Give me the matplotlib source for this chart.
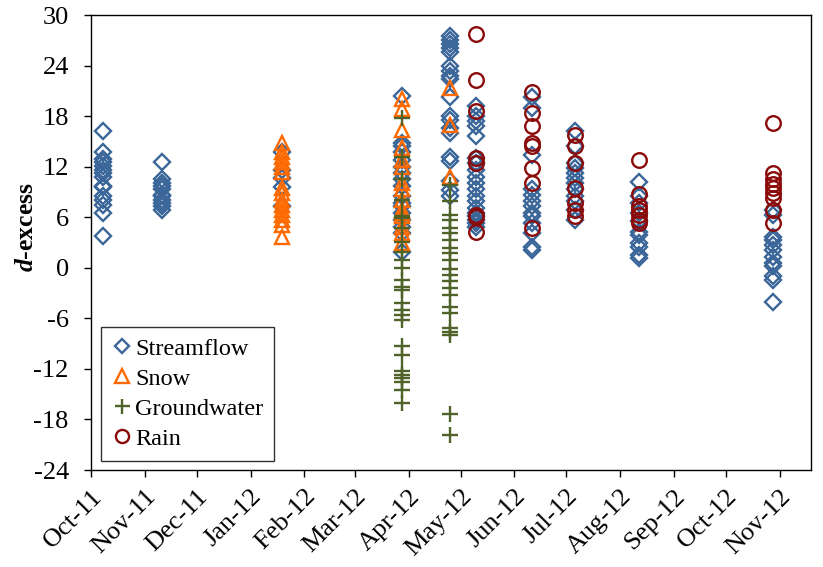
import matplotlib as mpl
mpl.use('Agg')
import matplotlib.pyplot as plt
import matplotlib.dates as mdates
import numpy as np
import pandas as pd

plt.rcParams['font.family'] = ['Liberation Serif', 'DejaVu Serif']
plt.rcParams['mathtext.fontset'] = 'custom'
plt.rcParams['mathtext.rm'] = 'Liberation Serif'
plt.rcParams['mathtext.it'] = 'Liberation Serif:italic:bold'
plt.rcParams['axes.unicode_minus'] = False

# sampling campaigns and d-excess values
stream_dates = ['2011-10-08', '2011-11-11', '2012-01-19', '2012-03-28', '2012-04-25',
                '2012-05-10', '2012-06-11', '2012-07-06', '2012-08-12', '2012-10-28']
stream_values = [
    [16.2, 13.7, 12.9, 12.5, 12.1, 11.6, 11.2, 10.8, 9.7, 9.6, 8.5, 8.1, 7.4, 6.5, 3.8],
    [12.6, 10.5, 10.1, 9.7, 9.3, 8.7, 8.5, 8.1, 7.7, 7.3, 6.9],
    [13.7, 11.6, 10.6, 9.6, 7.3],
    [20.4, 14.8, 14.4, 13.8, 12.8, 12.0, 11.2, 10.5, 9.7, 8.5, 7.7, 7.3, 6.5, 5.7, 4.9, 4.1, 1.9],
    [27.5, 27.0, 26.6, 26.1, 25.6, 23.9, 23.3, 22.8, 22.4, 20.3, 18.0, 17.5, 16.6, 16.0,
     13.2, 12.7, 10.3, 9.2, 8.5],
    [19.2, 18.0, 17.4, 16.8, 15.6, 13.0, 12.4, 11.6, 10.8, 10.1, 9.3, 8.5, 7.9, 7.1, 6.5,
     6.1, 5.7, 5.3, 4.9],
    [20.3, 19.0, 13.4, 9.3, 8.7, 7.9, 7.3, 6.5, 6.1, 5.3, 4.1, 2.5, 2.1],
    [16.2, 14.4, 12.4, 11.8, 11.2, 10.6, 10.1, 9.3, 8.5, 7.9, 6.9, 5.7],
    [10.2, 8.5, 7.7, 6.5, 5.5, 4.3, 3.9, 2.9, 2.5, 1.5, 1.2],
    [6.9, 6.3, 3.7, 3.3, 2.7, 2.1, 1.3, 0.6, 0.2, -1.0, -1.4, -4.0],
]

snow_dates = ['2012-01-19', '2012-03-28', '2012-04-25']
snow_values = [
    [14.8, 13.8, 13.2, 12.6, 12.0, 11.4, 9.5, 8.9, 8.1, 7.5, 6.9, 6.3, 5.7, 5.1, 3.7],
    [20.0, 18.8, 16.4, 14.2, 12.8, 12.0, 10.1, 9.3, 8.1, 6.9, 6.5, 6.1, 4.9, 4.1, 2.9],
    [21.3, 17.0, 10.8],
]

gw_dates = ['2012-03-28', '2012-04-25']
gw_values = [
    [17.8, 13.2, 10.5, 8.1, 6.1, 5.9, 4.7, 3.1, 1.9, 0.9, 0.0, -1.4, -2.3, -2.6, -4.2, -5.0,
     -5.6, -6.2, -9.3, -10.3, -12.3, -12.7, -13.1, -13.5, -14.5, -16.1],
    [9.8, 7.9, 6.3, 5.7, 4.7, 4.1, 3.3, 2.3, 1.7, 0.9, -0.2, -0.8, -1.6, -2.4, -3.2, -4.6,
     -5.4, -7.2, -7.6, -8.0, -17.3, -19.8],
]

rain_dates = ['2012-05-10', '2012-06-11', '2012-07-06', '2012-08-12', '2012-10-28']
rain_values = [
    [27.7, 22.3, 18.6, 13.0, 12.4, 6.3, 6.0, 4.3],
    [20.9, 18.4, 16.8, 14.8, 14.4, 11.8, 10.1, 4.7],
    [15.8, 14.5, 12.4, 9.5, 7.7, 6.9, 6.1],
    [12.8, 8.8, 7.3, 6.9, 6.3, 5.7, 5.3],
    [17.2, 11.2, 10.5, 9.9, 9.5, 8.9, 8.3, 6.9, 5.3],
]


def flatten(dates, values):
    x, y = [], []
    for d, vals in zip(dates, values):
        x += [pd.Timestamp(d)] * len(vals)
        y += vals
    return x, y


fig = plt.figure(figsize=(8.23, 5.67), dpi=100)
ax = fig.add_axes([0.1106, 0.171, 0.8748, 0.8025])

x, y = flatten(stream_dates, stream_values)
ax.plot(x, y, 'D', ls='none', ms=7.7, mfc='none', mec='#3B6699', mew=1.7, label='Streamflow')
x, y = flatten(snow_dates, snow_values)
ax.plot(x, y, '^', ls='none', ms=10.5, mfc='none', mec='#FF6A00', mew=1.7, label='Snow')
x, y = flatten(gw_dates, gw_values)
ax.plot(x, y, '+', ls='none', ms=12, mec='#4F6228', mew=1.7, label='Groundwater')
x, y = flatten(rain_dates, rain_values)
ax.plot(x, y, 'o', ls='none', ms=10.5, mfc='none', mec='#8B0A0A', mew=1.7, label='Rain')

ax.set_xlim(pd.Timestamp('2011-10-01'), pd.Timestamp('2012-11-19'))
ax.set_ylim(-24, 30)
ax.set_yticks(np.arange(-24, 31, 6))
ax.xaxis.set_major_locator(mdates.MonthLocator())
ax.xaxis.set_major_formatter(mdates.DateFormatter('%b-%y'))
ax.tick_params(axis='both', direction='out', length=5, width=1, labelsize=19)
ax.tick_params(axis='y', pad=11)
ax.tick_params(axis='x', pad=6)
plt.setp(ax.get_xticklabels(), rotation=45, ha='right', rotation_mode='anchor')
for s in ax.spines.values():
    s.set_linewidth(1)

ax.set_ylabel(r'$d$-excess', fontsize=18.5, fontweight='bold')
ax.yaxis.set_label_coords(-0.074, 0.535)

leg = ax.legend(loc='lower left', bbox_to_anchor=(0.014, 0.02), borderaxespad=0,
                fontsize=17.5, markerscale=0.9, handlelength=0.8, handletextpad=0.15,
                labelspacing=0.33, borderpad=0.45, fancybox=False, framealpha=1)
leg.get_frame().set_edgecolor('#333333')
leg.get_frame().set_linewidth(1)

fig.savefig('out.png', dpi=100)
